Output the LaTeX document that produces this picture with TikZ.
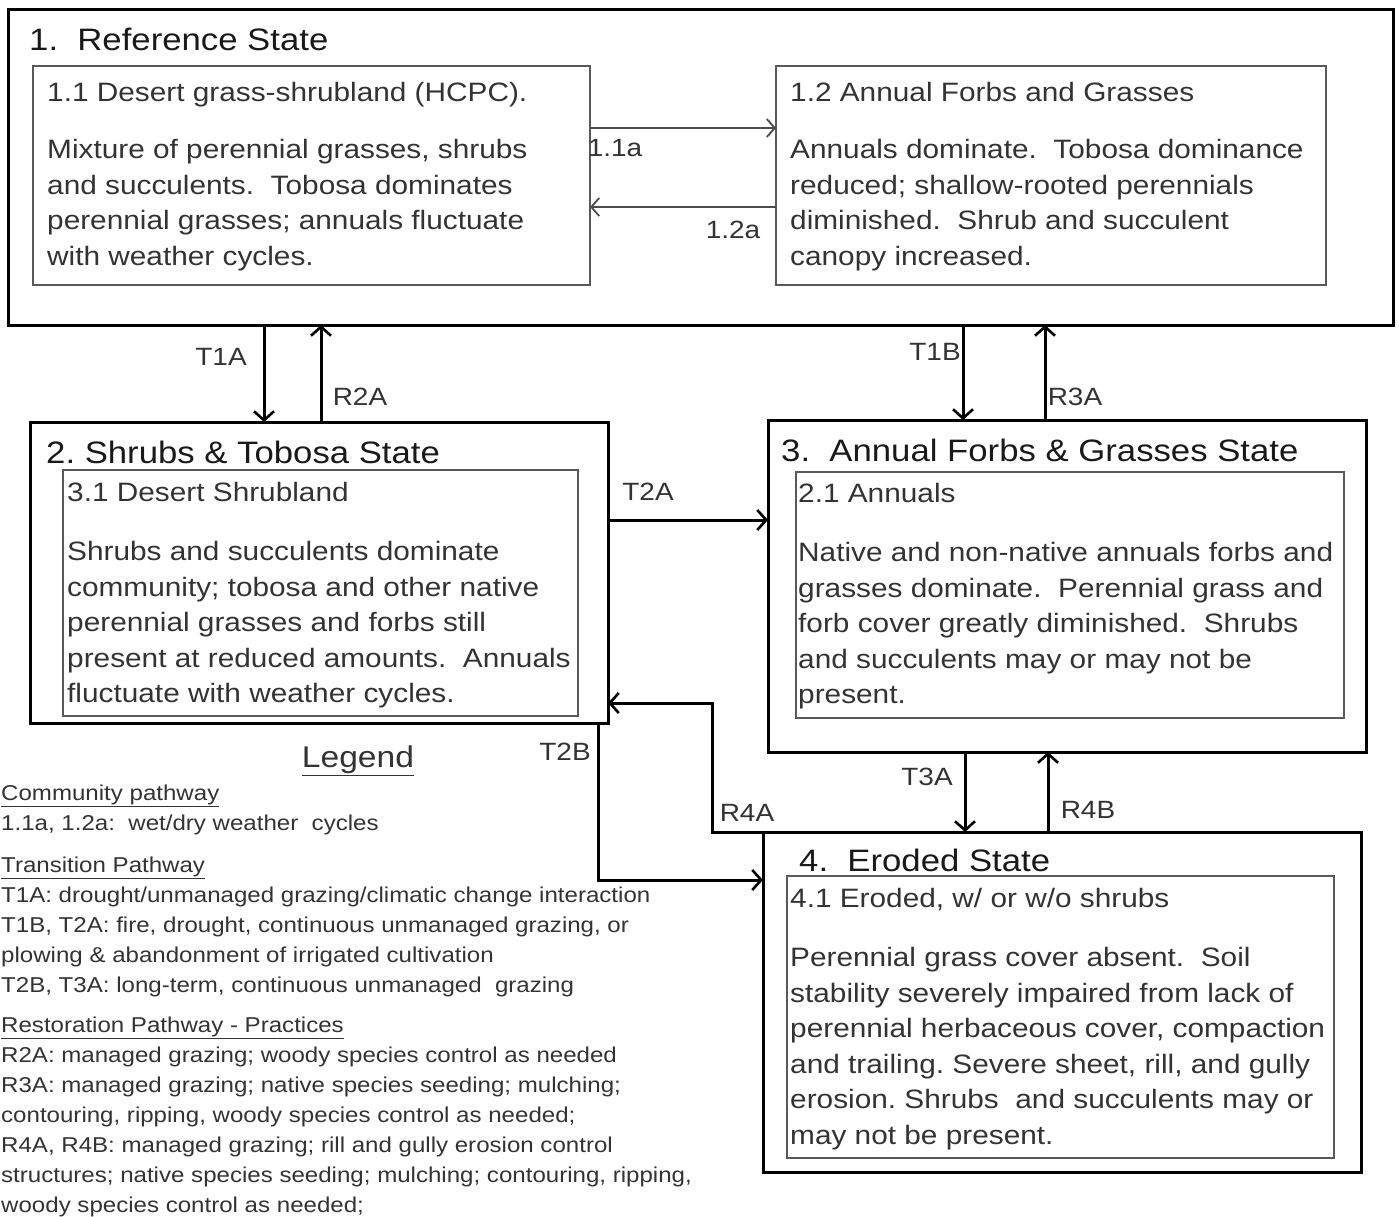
\documentclass[tikz,border=0pt]{standalone}
\usepackage{fontspec}
\setmainfont[FakeStretch=1.12]{Liberation Sans}
\usetikzlibrary{arrows.meta,calc}
\frenchspacing
\begin{document}
\begin{tikzpicture}[x=1pt,y=-1pt,
  statebox/.style={draw=black, line width=3pt, anchor=north west, inner sep=0pt, outer sep=0pt},
  commbox/.style={draw=black!65, line width=1.8pt, anchor=north west, inner sep=0pt, outer sep=0pt},
  boxtext/.style={anchor=north west, align=left, inner sep=0pt, text=black!80, font=\fontsize{26.6}{35.5}\selectfont},
  titletext/.style={anchor=west, inner sep=0pt, text=black!90, font=\fontsize{31}{36}\selectfont},
  tr/.style={line width=3pt, -{Straight Barb[length=9pt,width=20pt,line width=2.6pt]}},
  cp/.style={draw=black!70, line width=2pt, -{Straight Barb[length=8pt,width=18pt,line width=1.8pt]}},
  lbl/.style={inner sep=0pt, text=black!80, font=\fontsize{25}{30}\selectfont},
]
\useasboundingbox (0,0) rectangle (1399,1217);

% ---- state 1 ----
\node[statebox, minimum width=1385pt, minimum height=315pt] (s1) at (8,10) {};
\node[titletext] (t1) at (29,39) {1.\ \ Reference State};
\node[commbox, minimum width=557pt, minimum height=219pt] (b11) at (33,66) {};
\node[commbox, minimum width=550pt, minimum height=219pt] (b12) at (776,66) {};
\node[boxtext] (x11) at (47,82) {1.1 Desert grass-shrubland (HCPC).\\[22pt]
Mixture of perennial grasses, shrubs\\
and succulents.\ \ Tobosa dominates\\
perennial grasses; annuals fluctuate\\
with weather cycles.};
\node[boxtext] (x12) at (790,82) {1.2 Annual Forbs and Grasses\\[22pt]
Annuals dominate.\ \ Tobosa dominance\\
reduced; shallow-rooted perennials\\
diminished.\ \ Shrub and succulent\\
canopy increased.};

% ---- state 2 ----
\node[statebox, minimum width=578pt, minimum height=301pt] (s2) at (30,422) {};
\node[titletext] (t2) at (46,452) {2. Shrubs \& Tobosa State};
\node[commbox, minimum width=515pt, minimum height=246pt] (b2) at (63,470) {};
\node[boxtext] (x2) at (67,482) {3.1 Desert Shrubland\\[24pt]
Shrubs and succulents dominate\\
community; tobosa and other native\\
perennial grasses and forbs still\\
present at reduced amounts.\ \ Annuals\\
fluctuate with weather cycles.};

% ---- state 3 ----
\node[statebox, minimum width=598pt, minimum height=332pt] (s3) at (768,420) {};
\node[titletext] (t3) at (781,450) {3.\ \ Annual Forbs \& Grasses State};
\node[commbox, minimum width=548pt, minimum height=246pt] (b3) at (796,472) {};
\node[boxtext] (x3) at (798,483) {2.1 Annuals\\[24pt]
Native and non-native annuals forbs and\\
grasses dominate.\ \ Perennial grass and\\
forb cover greatly diminished.\ \ Shrubs\\
and succulents may or may not be\\
present.};

% ---- state 4 ----
\node[statebox, minimum width=598pt, minimum height=340pt] (s4) at (763,832) {};
\node[titletext] (t4) at (799,860) {4.\ \ Eroded State};
\node[commbox, minimum width=547pt, minimum height=282pt] (b4) at (787,876) {};
\node[boxtext] (x4) at (790,888) {4.1 Eroded, w/ or w/o shrubs\\[24pt]
Perennial grass cover absent.\ \ Soil\\
stability severely impaired from lack of\\
perennial herbaceous cover, compaction\\
and trailing. Severe sheet, rill, and gully\\
erosion. Shrubs\ \ and succulents may or\\
may not be present.};

% ---- helper coordinates ----
\coordinate (y11a) at (0,128);
\coordinate (y12a) at (0,207);
\coordinate (xT1A) at (264,0);
\coordinate (xR2A) at (321,0);
\coordinate (xT1B) at (963,0);
\coordinate (xR3A) at (1045,0);
\coordinate (yT2A) at (0,520);
\coordinate (yT2B) at (0,880);
\coordinate (xR4A) at (712,0);
\coordinate (yR4A) at (0,703);
\coordinate (xT3A) at (965,0);
\coordinate (xR4B) at (1048,0);

% ---- community pathways ----
\draw[cp] (b11.east |- y11a) -- (b12.west |- y11a);
\draw[cp] (b12.west |- y12a) -- (b11.east |- y12a);
\node[lbl] (l11a) at (615,148) {1.1a};
\node[lbl] (l12a) at (733,230) {1.2a};

% ---- transitions ----
\draw[tr] (s1.south -| xT1A) -- (s2.north -| xT1A);
\draw[tr] (s2.north -| xR2A) -- (s1.south -| xR2A);
\draw[tr] (s1.south -| xT1B) -- (s3.north -| xT1B);
\draw[tr] (s3.north -| xR3A) -- (s1.south -| xR3A);
\draw[tr] (s2.east |- yT2A) -- (s3.west |- yT2A);
\draw[tr] ([xshift=-10pt]s2.south east) -- ([xshift=-10pt]s2.south east |- yT2B) -- (s4.west |- yT2B);
\draw[tr] (s4.north west) -- (s4.north west -| xR4A) -- (xR4A |- yR4A) -- (s2.east |- yR4A);
\draw[tr] (s3.south -| xT3A) -- (s4.north -| xT3A);
\draw[tr] (s4.north -| xR4B) -- (s3.south -| xR4B);

\node[lbl] (lT1A) at (221,357) {T1A};
\node[lbl] (lR2A) at (360,397) {R2A};
\node[lbl] (lT1B) at (935,352) {T1B};
\node[lbl] (lR3A) at (1075,397) {R3A};
\node[lbl] (lT2A) at (648,492) {T2A};
\node[lbl] (lT2B) at (565,752) {T2B};
\node[lbl] (lR4A) at (747,813) {R4A};
\node[lbl] (lT3A) at (927,777) {T3A};
\node[lbl] (lR4B) at (1088,810) {R4B};

% ---- legend ----
\node[inner sep=0pt, text=black!80, font=\fontsize{30}{34}\selectfont] (leghead) at (358,761) {\underline{Legend}};
\node[anchor=north west, align=left, inner sep=0pt, text=black!80, font=\fontsize{21.5}{30}\selectfont] (legend) at (1,785) {\underline{Community pathway}\\
1.1a, 1.2a:\ \ wet/dry weather\ \ cycles\\[12pt]
\underline{Transition Pathway}\\
T1A: drought/unmanaged grazing/climatic change interaction\\
T1B, T2A: fire, drought, continuous unmanaged grazing, or\\
plowing \& abandonment of irrigated cultivation\\
T2B, T3A: long-term, continuous unmanaged\ \ grazing\\[10pt]
\underline{Restoration Pathway - Practices}\\
R2A: managed grazing; woody species control as needed\\
R3A: managed grazing; native species seeding; mulching;\\
contouring, ripping, woody species control as needed;\\
R4A, R4B: managed grazing; rill and gully erosion control\\
structures; native species seeding; mulching; contouring, ripping,\\
woody species control as needed;};
\end{tikzpicture}
\end{document}
